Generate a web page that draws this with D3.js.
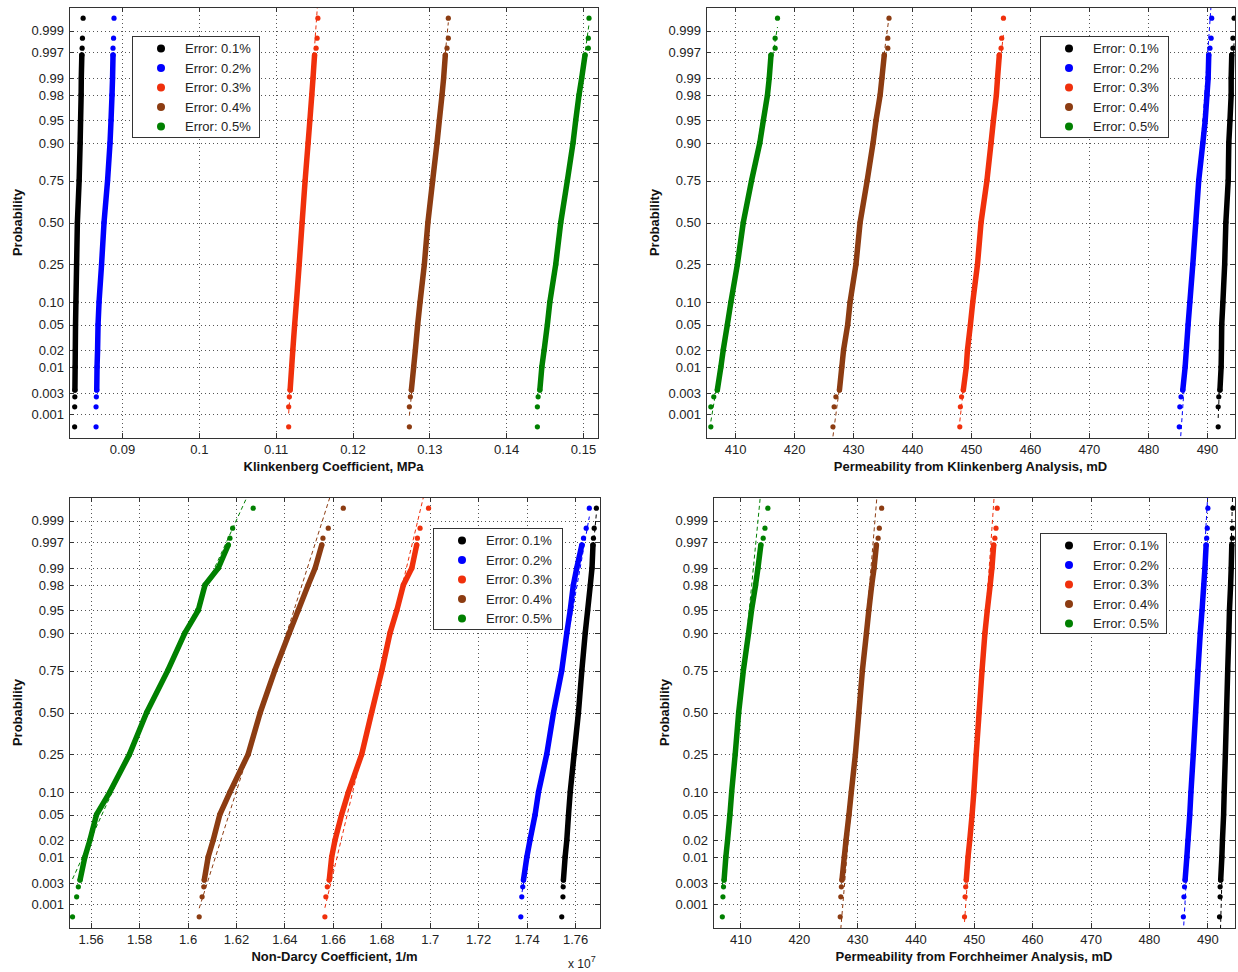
<!DOCTYPE html>
<html lang="en">
<head>
<meta charset="utf-8">
<style>
body { margin: 0; background: #fff; }
svg text { font-family: Arial, "Liberation Sans", sans-serif; }
.axis .tick text { font-size: 13px; fill: #222; }
.axis path { display: none; }
.axis line { stroke: #333; shape-rendering: crispEdges; }
.grid line { stroke: #555; stroke-dasharray: 1,3; shape-rendering: crispEdges; }
.label { font-size: 13px; font-weight: bold; fill: #111; }
.legend text { font-size: 13px; fill: #222; }
</style>
</head>
<body>
<script src="https://cdn.jsdelivr.net/npm/d3@7"></script>
<svg id="chart" width="1238" height="972"></svg>
<script>
var probs = [0.0005, 0.0015, 0.0025, 0.0035, 0.01, 0.02, 0.05, 0.10, 0.25, 0.50,
             0.75, 0.90, 0.95, 0.98, 0.99, 0.9965, 0.9975, 0.9985, 0.9995];

var seriesNames = ["Error: 0.1%", "Error: 0.2%", "Error: 0.3%", "Error: 0.4%", "Error: 0.5%"];
var seriesColors = ["#000000", "#0000ff", "#f0300c", "#8c3c12", "#008000"];

var probTicks = [0.001, 0.003, 0.01, 0.02, 0.05, 0.10, 0.25, 0.50, 0.75, 0.90, 0.95, 0.98, 0.99, 0.997, 0.999];
var probTickLabels = ["0.001", "0.003", "0.01", "0.02", "0.05", "0.10", "0.25", "0.50", "0.75", "0.90", "0.95", "0.98", "0.99", "0.997", "0.999"];

// Klinkenberg coefficient, MPa
var klinkCoefTicks = [0.09, 0.10, 0.11, 0.12, 0.13, 0.14, 0.15];
var klinkCoefTickLabels = ["0.09", "0.1", "0.11", "0.12", "0.13", "0.14", "0.15"];
var klinkCoef01 = [0.08383, 0.08384, 0.08386, 0.08387, 0.08390, 0.08392, 0.08395, 0.08400, 0.08409, 0.08419, 0.08442, 0.08455, 0.08461, 0.08468, 0.08470, 0.08477, 0.08481, 0.08485, 0.08494];
var klinkCoef02 = [0.08662, 0.08662, 0.08666, 0.08671, 0.08675, 0.08682, 0.08688, 0.08701, 0.08734, 0.08766, 0.08812, 0.08844, 0.08857, 0.08870, 0.08877, 0.08883, 0.08883, 0.08890, 0.08896];
var klinkCoef03 = [0.11169, 0.11169, 0.11178, 0.11188, 0.11208, 0.11223, 0.11247, 0.11270, 0.11306, 0.11344, 0.11383, 0.11422, 0.11445, 0.11470, 0.11486, 0.11506, 0.11526, 0.11539, 0.11549];
var klinkCoef04 = [0.12740, 0.12740, 0.12753, 0.12766, 0.12796, 0.12818, 0.12848, 0.12879, 0.12935, 0.12981, 0.13043, 0.13100, 0.13130, 0.13165, 0.13186, 0.13208, 0.13230, 0.13247, 0.13247];
var klinkCoef05 = [0.14406, 0.14406, 0.14416, 0.14438, 0.14464, 0.14494, 0.14536, 0.14568, 0.14645, 0.14710, 0.14796, 0.14870, 0.14905, 0.14948, 0.14983, 0.15026, 0.15069, 0.15069, 0.15078];

// permeability from Klinkenberg analysis, mD
var permTicks = [410, 420, 430, 440, 450, 460, 470, 480, 490];
var permTickLabels = ["410", "420", "430", "440", "450", "460", "470", "480", "490"];
var klinkPerm01 = [491.9, 491.9, 492.0, 492.2, 492.4, 492.45, 492.5, 492.7, 493.0, 493.2, 493.6, 493.7, 493.9, 494.1, 494.1, 494.2, 494.4, 494.4, 494.6];
var klinkPerm02 = [485.3, 485.4, 485.6, 485.9, 486.3, 486.5, 486.8, 487.1, 487.6, 488.1, 488.6, 489.3, 489.7, 490.0, 490.2, 490.3, 490.5, 490.7, 490.8];
var klinkPerm03 = [448.1, 448.2, 448.4, 448.7, 449.2, 449.4, 449.9, 450.3, 451.1, 451.7, 452.7, 453.4, 453.8, 454.3, 454.5, 454.8, 455.1, 455.2, 455.5];
var klinkPerm04 = [426.6, 426.8, 427.1, 427.7, 428.1, 428.4, 429.1, 429.5, 430.5, 431.2, 432.4, 433.4, 433.9, 434.6, 434.9, 435.3, 435.9, 435.9, 436.1];
var klinkPerm05 = [405.9, 405.9, 406.4, 407.0, 407.6, 408.0, 408.7, 409.3, 410.4, 411.4, 412.8, 414.2, 414.8, 415.5, 415.8, 416.1, 416.8, 416.8, 417.2];

// non-Darcy coefficient, 1/m (in units of 10^7)
var nonDarcyTicks = [1.56, 1.58, 1.60, 1.62, 1.64, 1.66, 1.68, 1.70, 1.72, 1.74, 1.76];
var nonDarcyTickLabels = ["1.56", "1.58", "1.6", "1.62", "1.64", "1.66", "1.68", "1.7", "1.72", "1.74", "1.76"];
var nonDarcy01 = [1.7545, 1.7550, 1.7551, 1.7552, 1.7559, 1.7566, 1.7573, 1.7580, 1.7596, 1.7614, 1.7628, 1.7642, 1.7652, 1.7663, 1.7670, 1.7674, 1.7676, 1.7679, 1.7688];
var nonDarcy02 = [1.7376, 1.7380, 1.7384, 1.7387, 1.7401, 1.7414, 1.7435, 1.7449, 1.7483, 1.7511, 1.7545, 1.7566, 1.7580, 1.7593, 1.7607, 1.7628, 1.7635, 1.7646, 1.7659];
var nonDarcy03 = [1.6567, 1.6571, 1.6577, 1.6585, 1.6595, 1.6609, 1.6636, 1.6664, 1.6719, 1.6760, 1.6802, 1.6836, 1.6864, 1.6891, 1.6926, 1.6946, 1.6949, 1.6960, 1.6995];
var nonDarcy04 = [1.6048, 1.6060, 1.6067, 1.6069, 1.6085, 1.6106, 1.6133, 1.6175, 1.6250, 1.6300, 1.6360, 1.6420, 1.6457, 1.6498, 1.6527, 1.6554, 1.6559, 1.6581, 1.6643];
var nonDarcy05 = [1.5525, 1.5542, 1.5549, 1.5556, 1.5576, 1.5597, 1.5624, 1.5679, 1.5760, 1.5831, 1.5918, 1.5989, 1.6044, 1.6072, 1.6127, 1.6168, 1.6175, 1.6186, 1.6271];

// permeability from Forchheimer analysis, mD
var forchPerm01 = [492.1, 492.2, 492.2, 492.3, 492.5, 492.6, 492.8, 492.9, 493.1, 493.3, 493.5, 493.7, 493.8, 494.0, 494.1, 494.2, 494.3, 494.3, 494.4];
var forchPerm02 = [485.9, 486.0, 486.1, 486.2, 486.5, 486.7, 487.0, 487.2, 487.6, 488.0, 488.4, 488.8, 489.1, 489.4, 489.6, 489.8, 489.9, 490.0, 490.1];
var forchPerm03 = [448.4, 448.5, 448.6, 448.7, 449.0, 449.3, 449.7, 450.0, 450.4, 450.9, 451.4, 451.9, 452.3, 452.8, 453.1, 453.4, 453.6, 453.8, 454.0];
var forchPerm04 = [427.1, 427.2, 427.3, 427.4, 427.8, 428.1, 428.6, 429.0, 429.7, 430.3, 430.9, 431.6, 432.0, 432.5, 432.9, 433.3, 433.6, 433.8, 434.2];
var forchPerm05 = [406.9, 407.0, 407.1, 407.2, 407.5, 407.8, 408.2, 408.5, 409.1, 409.7, 410.5, 411.4, 411.9, 412.6, 413.0, 413.5, 413.9, 414.2, 414.7];

var svg = d3.select("#chart");

// inverse normal cdf (Acklam's approximation)
function probit(p) {
  var a = [-3.969683028665376e+01, 2.209460984245205e+02, -2.759285104469687e+02, 1.383577518672690e+02, -3.066479806614716e+01, 2.506628277459239e+00],
      b = [-5.447609879822406e+01, 1.615858368580409e+02, -1.556989798598866e+02, 6.680131188771972e+01, -1.328068155288572e+01],
      c = [-7.784894002430293e-03, -3.223964580411365e-01, -2.400758276161838e+00, -2.549732539343734e+00, 4.374664141464968e+00, 2.938163982698783e+00],
      d = [7.784695709041462e-03, 3.224671290700398e-01, 2.445134137142996e+00, 3.754408661907416e+00];
  var q, r;
  if (p < 0.02425) {
    q = Math.sqrt(-2 * Math.log(p));
    return (((((c[0]*q+c[1])*q+c[2])*q+c[3])*q+c[4])*q+c[5]) / ((((d[0]*q+d[1])*q+d[2])*q+d[3])*q+1);
  }
  if (p > 1 - 0.02425) {
    q = Math.sqrt(-2 * Math.log(1 - p));
    return -(((((c[0]*q+c[1])*q+c[2])*q+c[3])*q+c[4])*q+c[5]) / ((((d[0]*q+d[1])*q+d[2])*q+d[3])*q+1);
  }
  q = p - 0.5; r = q * q;
  return (((((a[0]*r+a[1])*r+a[2])*r+a[3])*r+a[4])*r+a[5])*q / (((((b[0]*r+b[1])*r+b[2])*r+b[3])*r+b[4])*r+1);
}

var panels = [
  { id: "p1", box: [69, 7, 598, 438], xDomain: [0.0831, 0.15195], xTicks: klinkCoefTicks, xLabels: klinkCoefTickLabels,
    series: [klinkCoef01, klinkCoef02, klinkCoef03, klinkCoef04, klinkCoef05],
    xTitle: "Klinkenberg Coefficient, MPa", yTitleX: 17, legend: [132, 36, 127, 101] },
  { id: "p2", box: [706, 7, 1235, 438], xDomain: [405.08, 494.75], xTicks: permTicks, xLabels: permTickLabels,
    series: [klinkPerm01, klinkPerm02, klinkPerm03, klinkPerm04, klinkPerm05],
    xTitle: "Permeability from Klinkenberg Analysis, mD", yTitleX: 654, legend: [1040, 36, 128, 101] },
  { id: "p3", box: [69, 497, 600, 928], xDomain: [1.55104, 1.7703], xTicks: nonDarcyTicks, xLabels: nonDarcyTickLabels,
    series: [nonDarcy01, nonDarcy02, nonDarcy03, nonDarcy04, nonDarcy05],
    xTitle: "Non-Darcy Coefficient, 1/m", yTitleX: 17, legend: [433, 528, 129, 101], exponent: true },
  { id: "p4", box: [713, 497, 1235, 928], xDomain: [405.3, 494.75], xTicks: permTicks, xLabels: permTickLabels,
    series: [forchPerm01, forchPerm02, forchPerm03, forchPerm04, forchPerm05],
    xTitle: "Permeability from Forchheimer Analysis, mD", yTitleX: 664, legend: [1040, 533, 126, 100] }
];

panels.forEach(drawPanel);

function drawPanel(pn) {
  var l = pn.box[0], t = pn.box[1], r = pn.box[2], b = pn.box[3];
  var x = d3.scaleLinear().domain(pn.xDomain).range([l, r]);
  var y = d3.scaleLinear().domain([-3.47, 3.47]).range([b, t]);
  var zTicks = probTicks.map(probit);
  var g = svg.append("g");

  g.append("clipPath").attr("id", "clip-" + pn.id)
    .append("rect").attr("x", l).attr("y", t).attr("width", r - l).attr("height", b - t);

  // dotted grid
  var grid = g.append("g").attr("class", "grid");
  grid.selectAll(".gx").data(pn.xTicks).enter().append("line")
    .attr("x1", function(d) { return Math.round(x(d)) + 0.5; })
    .attr("x2", function(d) { return Math.round(x(d)) + 0.5; })
    .attr("y1", t).attr("y2", b);
  grid.selectAll(".gy").data(zTicks).enter().append("line")
    .attr("y1", function(d) { return Math.round(y(d)) + 0.5; })
    .attr("y2", function(d) { return Math.round(y(d)) + 0.5; })
    .attr("x1", l).attr("x2", r);

  // axes, ticks pointing inward
  g.append("g").attr("class", "axis").attr("transform", "translate(0," + b + ")")
    .call(d3.axisBottom(x).tickValues(pn.xTicks).tickFormat(function(d, i) { return pn.xLabels[i]; })
      .tickSize(-5).tickSizeOuter(0).tickPadding(7));
  g.append("g").attr("class", "axis").attr("transform", "translate(0," + t + ")")
    .call(d3.axisTop(x).tickValues(pn.xTicks).tickFormat("").tickSize(-5).tickSizeOuter(0));
  g.append("g").attr("class", "axis").attr("transform", "translate(" + l + ",0)")
    .call(d3.axisLeft(y).tickValues(zTicks).tickFormat(function(d, i) { return probTickLabels[i]; })
      .tickSize(-5).tickSizeOuter(0).tickPadding(5));
  g.append("g").attr("class", "axis").attr("transform", "translate(" + r + ",0)")
    .call(d3.axisRight(y).tickValues(zTicks).tickFormat("").tickSize(-5).tickSizeOuter(0));

  var plot = g.append("g").attr("clip-path", "url(#clip-" + pn.id + ")");
  var zs = probs.map(probit);

  pn.series.forEach(function(vals, k) {
    var col = seriesColors[k];
    // reference line through the quartiles, spanning the data range
    var q25 = vals[probs.indexOf(0.25)], q75 = vals[probs.indexOf(0.75)];
    var slope = (probit(0.75) - probit(0.25)) / (q75 - q25);
    var zAt = function(v) { return probit(0.25) + (v - q25) * slope; };
    var lo = d3.min(vals), hi = d3.max(vals);
    plot.append("line")
      .attr("x1", x(lo)).attr("y1", y(zAt(lo)))
      .attr("x2", x(hi)).attr("y2", y(zAt(hi)))
      .attr("stroke", col).attr("stroke-width", 1).attr("stroke-dasharray", "4,3");

    var pts = vals.map(function(v, i) { return [v, zs[i]]; });
    var dense = pts.slice(3, 16);
    plot.append("path")
      .attr("d", d3.line().x(function(d) { return x(d[0]); }).y(function(d) { return y(d[1]); })(dense))
      .attr("fill", "none").attr("stroke", col).attr("stroke-width", 5.5)
      .attr("stroke-linejoin", "round").attr("stroke-linecap", "round");
    plot.selectAll(".pt" + k).data(pts).enter().append("circle")
      .attr("cx", function(d) { return x(d[0]); })
      .attr("cy", function(d) { return y(d[1]); })
      .attr("r", 2.6).attr("fill", col);
  });

  // frame
  g.append("rect").attr("x", l + 0.5).attr("y", t + 0.5).attr("width", r - l).attr("height", b - t)
    .attr("fill", "none").attr("stroke", "#333").attr("stroke-width", 1);

  // titles
  g.append("text").attr("class", "label").attr("text-anchor", "middle")
    .attr("x", (l + r) / 2).attr("y", b + 33).text(pn.xTitle);
  g.append("text").attr("class", "label").attr("text-anchor", "middle")
    .attr("transform", "translate(" + (pn.yTitleX + 5) + "," + ((t + b) / 2) + ") rotate(-90)")
    .text("Probability");

  if (pn.exponent) {
    var ex = g.append("text").attr("x", r - 32).attr("y", b + 40).attr("font-size", 12).attr("fill", "#222");
    ex.append("tspan").text("x 10");
    ex.append("tspan").attr("dy", -6).attr("font-size", 9).text("7");
  }

  // legend
  var lg = pn.legend;
  var leg = g.append("g").attr("class", "legend");
  leg.append("rect").attr("x", lg[0] + 0.5).attr("y", lg[1] + 0.5).attr("width", lg[2]).attr("height", lg[3])
    .attr("fill", "#fff").attr("stroke", "#333");
  seriesNames.forEach(function(name, k) {
    var yy = lg[1] + 12.5 + k * 19.5;
    leg.append("circle").attr("cx", lg[0] + 29).attr("cy", yy).attr("r", 4).attr("fill", seriesColors[k]);
    leg.append("text").attr("x", lg[0] + 53).attr("y", yy).attr("dy", "0.36em").text(name);
  });
}
</script>
</body>
</html>
